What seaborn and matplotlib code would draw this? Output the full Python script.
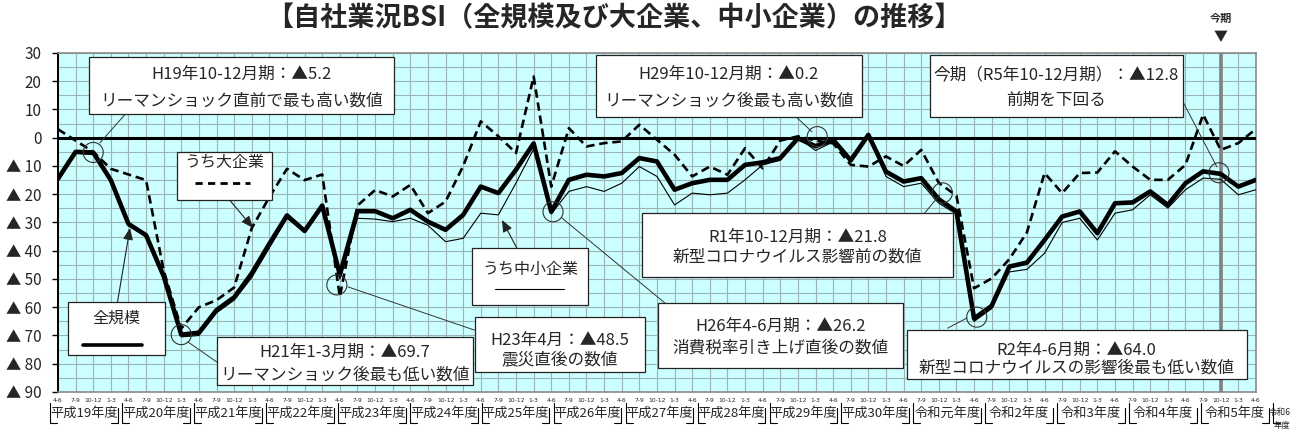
import numpy as np
import pandas as pd
import matplotlib
matplotlib.use("Agg")
import matplotlib.pyplot as plt
from matplotlib.patches import Rectangle, Ellipse
import seaborn as sns

# ---------------- data ----------------
quarters = ["4-6", "7-9", "10-12", "1-3"]
fiscal_years = ["平成19年度", "平成20年度", "平成21年度", "平成22年度", "平成23年度",
                "平成24年度", "平成25年度", "平成26年度", "平成27年度", "平成28年度",
                "平成29年度", "平成30年度", "令和元年度", "令和2年度", "令和3年度",
                "令和4年度", "令和5年度", "令和6年度"]

# 全規模 (all sizes)
all_sizes = [-14.5, -5.0, -5.2, -15.0, -30.5, -34.5, -49.0, -69.7, -69.0, -61.0,
             -56.5, -48.0, -37.5, -27.5, -33.0, -24.0, -48.5, -26.0, -26.0, -28.5,
             -25.5, -29.7, -32.6, -27.3, -17.3, -19.6, -11.3, -2.0, -26.2, -14.9,
             -13.1, -13.7, -12.5, -7.2, -8.4, -18.4, -16.1, -14.9, -14.9, -9.6,
             -8.7, -7.2, -0.2, -3.0, -0.7, -8.0, 1.0, -12.0, -15.5, -14.3,
             -21.8, -26.1, -64.0, -59.5, -45.6, -44.2, -36.2, -27.9, -26.1, -33.8,
             -23.2, -22.9, -19.0, -23.8, -16.1, -11.9, -12.8, -17.3, -14.9]
# うち大企業 (large firms)
large_firms = [3.0, -1.0, -5.0, -11.0, -13.0, -15.0, -47.0, -67.5, -60.0, -57.5,
               -53.0, -32.0, -21.0, -11.0, -15.0, -13.0, -56.3, -24.0, -18.5, -20.8,
               -16.7, -26.7, -22.6, -10.0, 5.8, 0.5, -5.4, 21.7, -17.3, 3.4,
               -3.1, -1.9, -1.3, 4.6, -0.7, -6.0, -13.7, -10.2, -13.1, -3.7,
               -10.8, -1.0, 0.5, -1.0, -2.0, -9.6, -10.2, -6.6, -10.0, -4.3,
               -16.0, -20.5, -53.3, -49.8, -43.0, -33.5, -12.5, -19.6, -12.5, -12.3,
               -4.8, -10.2, -14.9, -14.9, -9.6, 8.2, -4.3, -1.9, 3.1]
# うち中小企業 (small and medium firms)
small_firms = [-15.5, -5.5, -6.0, -15.5, -31.0, -35.0, -50.0, -70.5, -70.0, -62.0,
               -57.5, -49.5, -39.0, -28.5, -33.5, -25.0, -50.0, -28.5, -28.8, -29.7,
               -28.5, -31.0, -36.8, -35.6, -26.7, -27.3, -16.0, -4.0, -27.0, -19.0,
               -17.3, -19.0, -16.1, -10.2, -13.7, -23.8, -19.6, -20.2, -19.6, -14.9,
               -9.6, -8.0, 0.0, -4.5, -1.5, -8.5, 0.5, -13.7, -17.3, -16.1,
               -23.2, -27.0, -65.0, -60.5, -47.5, -46.6, -40.9, -30.0, -28.5, -36.2,
               -26.7, -25.5, -20.2, -24.9, -18.4, -14.3, -14.7, -20.2, -18.4]

y_ticks = [30, 20, 10, 0, -10, -20, -30, -40, -50, -60, -70, -80, -90]
y_tick_labels = ["30", "20", "10", "0", "▲ 10", "▲ 20", "▲ 30", "▲ 40", "▲ 50",
                 "▲ 60", "▲ 70", "▲ 80", "▲ 90"]

n = len(all_sizes)
period_labels = [quarters[i % 4] for i in range(n)]
current_idx = 66  # 今期 R5年10-12月期

df = pd.DataFrame({
    "idx": list(range(n)) * 3,
    "value": all_sizes + large_firms + small_firms,
    "series": ["全規模"] * n + ["うち大企業"] * n + ["うち中小企業"] * n,
})

# ---------------- style ----------------
sns.set_theme(style="white")
plt.rcParams["font.family"] = ["Noto Sans CJK JP", "DejaVu Sans"]
plt.rcParams["axes.unicode_minus"] = False

fig = plt.figure(figsize=(12.94, 4.34), dpi=100)
ax = fig.add_axes([0.0448, 0.0968, 0.9258, 0.7811])
ax.set_facecolor("#ccffff")

sns.lineplot(data=df[df.series == "うち中小企業"], x="idx", y="value", ax=ax,
             color="black", linewidth=0.8, zorder=4, legend=False)
sns.lineplot(data=df[df.series == "全規模"], x="idx", y="value", ax=ax,
             color="black", linewidth=3.3, zorder=5, legend=False)
sns.lineplot(data=df[df.series == "うち大企業"], x="idx", y="value", ax=ax,
             color="black", linewidth=1.9, linestyle=(0, (3.2, 1.8)), zorder=6,
             legend=False)

ax.set_xlim(0, n - 1)
ax.set_ylim(-90, 30)
ax.set_xlabel("")
ax.set_ylabel("")

# grid
ax.set_xticks(range(n))
ax.set_xticklabels(period_labels, fontsize=4.3, family=["DejaVu Sans"])
ax.set_yticks(y_ticks)
ax.set_yticklabels(y_tick_labels, fontsize=11)
ax.set_yticks(np.arange(-90, 31, 5), minor=True)
ax.grid(True, axis="x", which="major", color="#9db4b4", linewidth=0.8, zorder=1)
ax.grid(True, axis="y", which="both", color="#9db4b4", linewidth=0.8, zorder=1)
ax.set_axisbelow(True)
ax.tick_params(axis="x", length=0, pad=4)
ax.tick_params(axis="y", which="major", length=4, width=1, color="black",
               direction="out", pad=8, left=True)
ax.tick_params(axis="y", which="minor", length=0)
for s in ["top", "right", "bottom"]:
    ax.spines[s].set_color("#8a8a8a")
    ax.spines[s].set_linewidth(1.2)
ax.spines["left"].set_color("black")
ax.spines["left"].set_linewidth(1.4)

ax.axhline(0, color="black", linewidth=2.2, zorder=3)
ax.axvline(current_idx, color="#808080", linewidth=2.6, zorder=3.5)

# title and 今期 marker
fig.text(0.4745, 0.958, "【自社業況BSI（全規模及び大企業、中小企業）の推移】",
         ha="center", va="center", fontsize=19.5, fontweight="bold")
xt = ax.get_xaxis_transform()
ax.text(current_idx, 1.103, "今期", transform=xt, ha="center", va="center",
        fontsize=8, fontweight="bold")
ax.text(current_idx, 1.046, "▼", transform=xt, ha="center", va="center", fontsize=10)

# fiscal-year row with brackets
step = 4.083
for k, fy in enumerate(fiscal_years):
    c = 1.48 + step * k
    left_b = c - step / 2 + 0.12
    right_b = c + step / 2 - 0.12
    ax.plot([left_b, left_b, left_b + 0.4], [-0.0324, -0.0914, -0.0914],
            transform=xt, color="black", lw=0.8, clip_on=False)
    if k < len(fiscal_years) - 1:
        ax.plot([right_b - 0.4, right_b, right_b], [-0.0914, -0.0914, -0.047],
                transform=xt, color="black", lw=0.8, clip_on=False)
        ax.text(c, -0.062, fy, transform=xt, ha="center", va="center", fontsize=9.5)
    else:
        # last (partial) fiscal year: squeezed against the right edge
        fig.text(0.9975, 1 - 413 / 434, fy[:3], ha="right", va="center",
                 fontsize=6.2)
        fig.text(0.9975, 1 - 425 / 434, fy[3:], ha="right", va="center",
                 fontsize=6.0)

# ---------------- annotations ----------------
def box(x0, x1, y0, y1):
    ax.add_patch(Rectangle((x0, y0), x1 - x0, y1 - y0, facecolor="white",
                           edgecolor="#222222", linewidth=0.9, zorder=10,
                           clip_on=False))

def txt(x, y, s, size=12):
    ax.text(x, y, s, ha="center", va="center", fontsize=size, zorder=11)

def leader(x0, y0, x1, y1, arrow=False):
    if arrow:
        ax.annotate("", xy=(x1, y1), xytext=(x0, y0),
                    arrowprops=dict(arrowstyle="-|>,head_length=0.6,head_width=0.25",
                                    color="#222222", lw=0.8, shrinkA=0, shrinkB=0),
                    zorder=9)
    else:
        ax.plot([x0, x1], [y0, y1], color="#333333", lw=0.7, zorder=9)

def circle(x, y):
    ax.add_patch(Ellipse((x, y), 1.14, 7.1, facecolor="none", edgecolor="#333333",
                         linewidth=0.8, zorder=8))

# H19
box(1.76, 19.07, 8.5, 28.7)
txt(10.4, 22.3, "H19年10-12月期：▲5.2")
txt(10.4, 13.1, "リーマンショック直前で最も高い数値")
leader(3.8, 8.2, 2.38, -1.8)
circle(2, -5.2)

# うち大企業 legend
box(6.75, 12.15, -22.0, -5.0)
txt(9.45, -8.6, "うち大企業", 11.5)
ax.plot([7.78, 10.9], [-16.0, -16.0], color="black", lw=2.0,
        linestyle=(0, (2.6, 1.9)), zorder=11)
leader(9.59, -20.9, 11.07, -31.9, arrow=True)

# 全規模 legend
box(0.57, 6.07, -77.0, -58.2)
txt(3.32, -63.8, "全規模", 11.5)
ax.plot([1.42, 4.77], [-73.4, -73.4], color="black", lw=2.6, zorder=11)
leader(3.35, -59.2, 4.09, -31.9, arrow=True)

# H21
box(9.02, 23.55, -87.6, -70.6)
txt(16.3, -75.9, "H21年1-3月期：▲69.7")
txt(16.3, -84.0, "リーマンショック後最も低い数値")
leader(7.38, -72.3, 9.02, -79.4)
circle(7, -69.7)

# H23
box(23.65, 33.3, -83.0, -63.5)
txt(28.48, -71.6, "H23年4月：▲48.5")
txt(28.48, -78.7, "震災直後の数値")
leader(16.46, -52.8, 23.65, -68.1)
circle(15.83, -52.1)

# うち中小企業 legend
box(23.5, 30.1, -59.2, -39.0)
txt(26.8, -46.8, "うち中小企業", 11.5)
ax.plot([24.8, 28.7], [-53.5, -53.5], color="black", lw=0.8, zorder=11)
leader(26.1, -39.7, 25.2, -29.1, arrow=True)

# H26
box(34.05, 47.96, -81.6, -58.5)
txt(41.0, -66.7, "H26年4-6月期：▲26.2")
txt(41.0, -74.5, "消費税率引き上げ直後の数値")
leader(28.6, -28.4, 34.45, -58.5)
circle(28.1, -26.2)

# H29
box(30.53, 45.63, 7.4, 29.4)
txt(38.08, 22.3, "H29年10-12月期：▲0.2")
txt(38.08, 13.1, "リーマンショック後最も高い数値")
leader(41.83, 7.8, 42.8, 2.1)
circle(43.1, 0.4)

# 今期
box(49.49, 63.85, 7.4, 29.4)
txt(56.67, 22.3, "今期（R5年10-12月期）：▲12.8")
txt(56.67, 13.1, "前期を下回る")
leader(63.85, 12.8, 65.78, -10.3)
circle(65.9, -12.4)

# R1
box(33.14, 50.79, -49.3, -26.6)
txt(41.97, -35.1, "R1年10-12月期：▲21.8")
txt(41.97, -42.2, "新型コロナウイルス影響前の数値")
leader(49.2, -26.6, 50.06, -20.2)
circle(50.2, -19.5)

# R2
box(48.18, 67.48, -85.5, -68.1)
txt(57.83, -75.2, "R2年4-6月期：▲64.0")
txt(57.83, -81.6, "新型コロナウイルスの影響後最も低い数値")
leader(51.6, -63.8, 50.5, -67.4)
circle(52.15, -63.5)

fig.savefig("out.png", dpi=100)
